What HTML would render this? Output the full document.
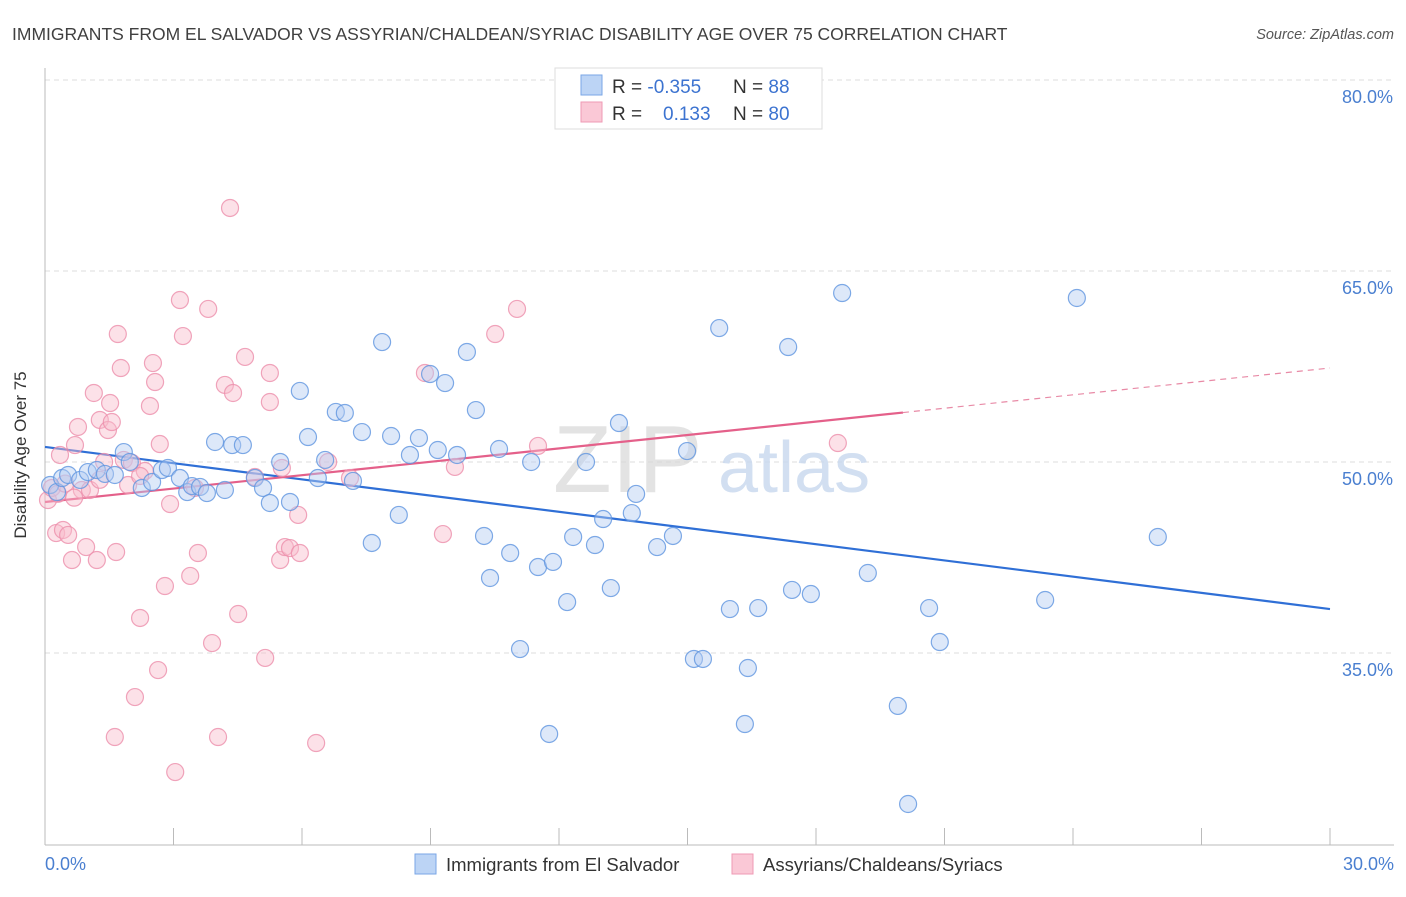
<!DOCTYPE html>
<html><head><meta charset="utf-8">
<style>
body{margin:0;background:#fff;font-family:"Liberation Sans",sans-serif;}
svg text{font-family:"Liberation Sans",sans-serif;}
</style></head>
<body>
<svg id="chart" width="1406" height="892" xmlns="http://www.w3.org/2000/svg">
<text x="12" y="40" font-size="17.5" fill="#404040">IMMIGRANTS FROM EL SALVADOR VS ASSYRIAN/CHALDEAN/SYRIAC DISABILITY AGE OVER 75 CORRELATION CHART</text>
<text x="1394" y="39" font-size="14.5" fill="#555" font-style="italic" text-anchor="end">Source: ZipAtlas.com</text>
<g id="grid"></g>
<g>
<text x="553" y="492" font-size="96" fill="#d8d8d8" font-family="Liberation Serif" opacity="0.7">ZIP</text>
<text x="718" y="492" font-size="72" fill="#c8d8ee" opacity="0.8">atlas</text>
</g>
<g id="axes"></g>
<g id="trends"></g>
<g id="pts"></g>
<text x="26" y="455" font-size="17" fill="#333" text-anchor="middle" transform="rotate(-90 26 455)">Disability Age Over 75</text>
<text x="45" y="870" font-size="18" fill="#4a7fd0">0.0%</text>
<text x="1394" y="870" font-size="18" fill="#4a7fd0" text-anchor="end">30.0%</text>
<g>
<rect x="555" y="68" width="267" height="61" fill="#fff" stroke="#ddd"/>
<rect x="581" y="75" width="21" height="20" fill="#bcd4f5" stroke="#7aa6e6"/>
<rect x="581" y="102" width="21" height="20" fill="#fac8d6" stroke="#ef9ab4"/>
<text x="612" y="93" font-size="19" fill="#333">R = <tspan fill="#3c73d0">-0.355</tspan></text>
<text x="733" y="93" font-size="19" fill="#333">N = <tspan fill="#3c73d0"> 88</tspan></text>
<text x="612" y="120" font-size="19" fill="#333">R = <tspan fill="#3c73d0" x="663">0.133</tspan></text>
<text x="733" y="120" font-size="19" fill="#333">N = <tspan fill="#3c73d0">80</tspan></text>
</g>
<g>
<rect x="415" y="854" width="21" height="20" fill="#bcd4f5" stroke="#7aa6e6"/>
<text x="446" y="871" font-size="18.5" fill="#333">Immigrants from El Salvador</text>
<rect x="732" y="854" width="21" height="20" fill="#fac8d6" stroke="#ef9ab4"/>
<text x="763" y="871" font-size="18.5" fill="#333">Assyrians/Chaldeans/Syriacs</text>
</g>
</svg>
<script>
const yTicks=[80,65,50,35];
const yTickLabels=["80.0%","65.0%","50.0%","35.0%"];
const xTicks=[0,3,6,9,12,15,18,21,24,27,30];
const blueX=[0.12,0.28,0.40,0.54,0.82,1.00,1.21,1.40,1.63,1.84,1.98,2.26,2.50,2.73,2.87,3.15,3.32,3.43,3.62,3.78,3.97,4.20,4.37,4.62,4.90,5.09,5.25,5.49,5.72,5.95,6.14,6.37,6.54,6.79,7.00,7.19,7.40,7.63,7.87,8.08,8.26,8.52,8.73,8.99,9.17,9.34,9.62,9.85,10.06,10.25,10.39,10.60,10.86,11.09,11.35,11.51,11.77,11.86,12.19,12.33,12.63,12.84,13.03,13.21,13.40,13.70,13.80,14.29,14.66,14.99,15.15,15.36,15.74,15.99,16.34,16.41,16.65,17.35,17.44,17.88,18.61,19.21,19.91,20.15,20.64,20.89,23.35,24.09,25.98];
const blueY=[48.19,47.64,48.74,48.98,48.59,49.21,49.37,49.06,48.98,50.78,50.00,47.96,48.43,49.37,49.53,48.74,47.64,48.11,48.04,47.56,51.57,47.80,51.33,51.33,48.74,47.96,46.78,50.00,46.86,55.58,51.96,48.74,50.16,53.93,53.85,48.51,52.35,43.64,59.42,52.04,45.84,50.55,51.88,56.91,50.94,56.20,50.55,58.64,54.08,44.19,40.89,51.02,42.85,35.31,50.00,41.75,28.64,42.15,39.00,44.11,50.00,43.48,45.52,40.10,53.06,45.99,47.49,43.32,44.19,50.86,34.53,34.53,60.52,38.45,29.42,33.82,38.53,59.03,39.95,39.63,63.27,41.28,30.84,23.14,38.53,35.86,39.16,62.88,44.11];
const pinkX=[0.07,0.16,0.26,0.35,0.42,0.54,0.63,0.70,0.77,0.86,0.96,1.05,1.14,1.21,1.28,1.38,1.47,1.52,1.56,1.66,1.70,1.77,1.84,1.94,2.03,2.10,2.22,2.33,2.45,2.52,2.57,2.64,2.68,2.80,2.92,3.04,3.15,3.22,3.39,3.50,3.57,3.81,3.90,4.04,4.20,4.32,4.39,4.51,4.67,4.90,5.14,5.25,5.25,5.49,5.53,5.60,5.72,5.91,5.95,6.33,6.61,7.12,8.87,9.29,9.57,10.51,11.02,11.51,18.51,0.30,0.47,0.68,1.28,2.22,1.63];
const pinkY=[47.01,47.96,44.42,50.55,44.66,44.27,42.30,51.33,52.75,47.80,43.32,47.80,55.42,42.30,53.30,50.00,52.51,54.63,53.14,42.93,60.05,57.38,50.16,48.19,49.92,31.54,37.75,49.29,54.40,57.77,56.28,33.66,51.41,40.26,46.70,25.65,62.72,59.89,41.05,47.96,42.85,62.02,35.78,28.40,56.05,69.95,55.42,38.06,58.25,48.82,34.61,54.71,56.99,42.30,49.53,43.32,43.24,45.84,42.85,27.93,50.00,48.74,56.99,44.34,49.61,60.05,62.02,51.26,51.49,47.5,48.3,47.2,48.6,48.9,28.4];
const blueTrend=[51.18,38.45]; // y at x=0 and x=30
const pinkTrend=[46.86,57.38];
const pinkSolidEnd=20.03;

const NS="http://www.w3.org/2000/svg";
const X=v=>45+v/30*1285;
const Y=v=>80+(80-v)*12.733;
function mk(tag,attrs,parent){const e=document.createElementNS(NS,tag);for(const k in attrs)e.setAttribute(k,attrs[k]);parent.appendChild(e);return e;}
const grid=document.getElementById('grid'),axes=document.getElementById('axes'),tr=document.getElementById('trends'),pts=document.getElementById('pts');
yTicks.forEach((t,i)=>{
  const l=mk('line',{x1:45,x2:1394,y1:Y(t),y2:Y(t),stroke:'#ddd','stroke-dasharray':'5,4'},grid);
  
  
  const tx=mk('text',{x:1393,y:Y(t)+23,'font-size':18,fill:'#4a7fd0','text-anchor':'end'},grid);
  tx.textContent=yTickLabels[i];
  
  
});
const ax1=mk('line',{x1:45,x2:45,y1:68,y2:845,stroke:'#bbb'},axes);


const ax2=mk('line',{x1:45,x2:1394,y1:845,y2:845,stroke:'#bbb'},axes);


xTicks.forEach(t=>{
  const l=mk('line',{x1:X(t),x2:X(t),y1:828,y2:845,stroke:'#bbb'},axes);
  
  
});
function dot(x,y,fill,stroke,name){
  const c=mk('circle',{cx:X(x),cy:Y(y),r:8.5,fill:fill,'fill-opacity':0.45,stroke:stroke,'stroke-opacity':0.8,'stroke-width':1.2},pts);
  
  
}
pinkX.forEach((x,i)=>dot(x,pinkY[i],'#f8bccd','#ec8fab','point-assyrian'));
blueX.forEach((x,i)=>dot(x,blueY[i],'#b4cdf2','#5f95e0','point-el-salvador'));
const bl=mk('line',{x1:X(0),y1:Y(blueTrend[0]),x2:X(30),y2:Y(blueTrend[1]),stroke:'#2f6fd6','stroke-width':2.2},tr);


const pAt=x=>pinkTrend[0]+(pinkTrend[1]-pinkTrend[0])*x/30;
const pl=mk('line',{x1:X(0),y1:Y(pinkTrend[0]),x2:X(pinkSolidEnd),y2:Y(pAt(pinkSolidEnd)),stroke:'#e4608a','stroke-width':2.2},tr);


const pd=mk('line',{x1:X(pinkSolidEnd),y1:Y(pAt(pinkSolidEnd)),x2:X(30),y2:Y(pinkTrend[1]),stroke:'#e88aa6','stroke-width':1.2,'stroke-dasharray':'6,5'},tr);


</script>
</body></html>
